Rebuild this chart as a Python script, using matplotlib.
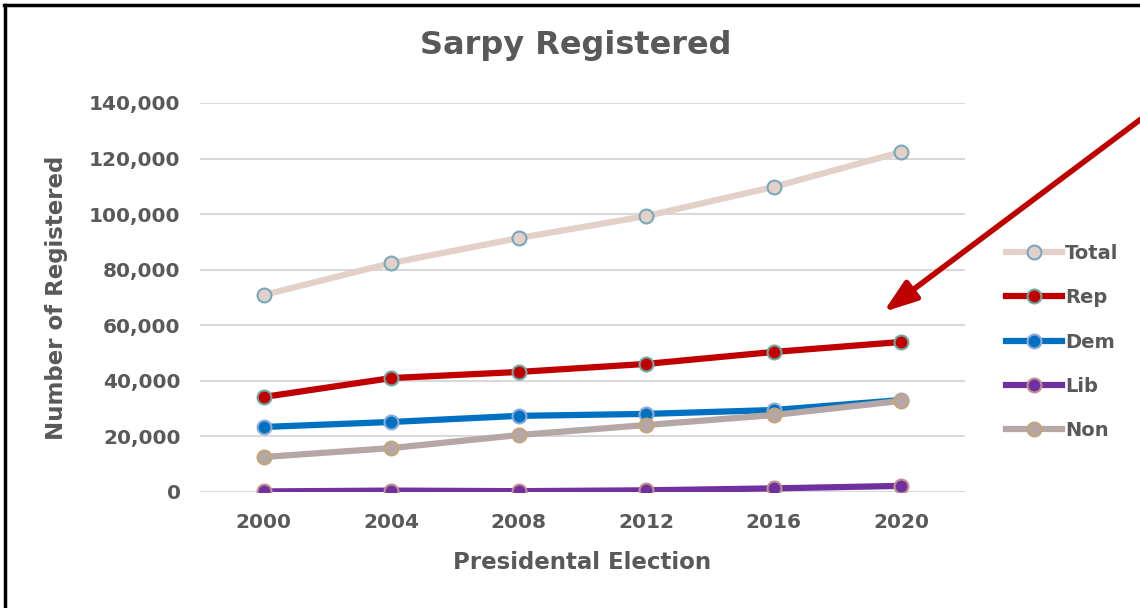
import matplotlib.pyplot as plt
from matplotlib.lines import Line2D
from matplotlib.patches import FancyArrowPatch
from matplotlib.ticker import FuncFormatter

plt.rcParams['font.family'] = ['DejaVu Sans']
plt.rcParams['font.weight'] = 'bold'

years = ['2000', '2004', '2008', '2012', '2016', '2020']
total = [70900, 82400, 91400, 99300, 109800, 122400]
rep = [34200, 41000, 43200, 46100, 50400, 54000]
dem = [23400, 25200, 27400, 28100, 29500, 33100]
lib = [200, 500, 300, 600, 1300, 2200]
non = [12600, 15800, 20500, 24100, 27700, 32800]

series = [
    ('Total', total, '#e2d0c9', '#e2d0c9', '#78a8bb'),
    ('Rep', rep, '#c00000', '#c00000', '#6fa8a0'),
    ('Dem', dem, '#0070c0', '#0070c0', '#8ea9db'),
    ('Lib', lib, '#7030a0', '#7030a0', '#c0908a'),
    ('Non', non, '#b4a7a5', '#b4a7a5', '#c4a57a'),
]

grey = '#595959'

fig = plt.figure(figsize=(11.4, 6.08), dpi=100)
ax = fig.add_axes([0.1754, 0.1908, 0.6711, 0.6398])

x = list(range(len(years)))
for name, vals, lc, fc, ec in series:
    ax.plot(x, vals, color=lc, lw=4.5, marker='o', ms=10,
            markerfacecolor=fc, markeredgecolor=ec, markeredgewidth=1.5,
            solid_capstyle='round', zorder=3)

ax.set_xlim(-0.5, 5.5)
ax.set_ylim(0, 140000)
ax.set_yticks(range(0, 140001, 20000))
ax.yaxis.set_major_formatter(FuncFormatter(lambda v, p: f'{int(v):,}'))
ax.set_xticks(x)
ax.set_xticklabels(years)
ax.grid(axis='y', color='#d9d9d9', lw=1.5, zorder=0)
for s in ax.spines.values():
    s.set_visible(False)
ax.tick_params(length=0, labelsize=14.5, labelcolor=grey)
ax.tick_params(axis='y', pad=14)
ax.tick_params(axis='x', pad=15)
for t in ax.get_xticklabels() + ax.get_yticklabels():
    t.set_fontweight('bold')

ax.set_xlabel('Presidental Election', fontsize=16.5, color=grey, fontweight='bold')
ax.set_ylabel('Number of Registered', fontsize=16.5, color=grey, fontweight='bold')
ax.xaxis.set_label_coords(0.50, -0.152)
ax.yaxis.set_label_coords(-0.1725, 0.50)
fig.text(0.505, 0.925, 'Sarpy Registered', ha='center', va='center',
         fontsize=23, color=grey, fontweight='bold')

handles = [Line2D([0], [0], color=lc, lw=4.5, marker='o', ms=10,
                  markerfacecolor=fc, markeredgecolor=ec, markeredgewidth=1.5)
           for name, vals, lc, fc, ec in series]
labels = [s[0] for s in series]
leg = fig.legend(handles, labels, loc='center left',
                 bbox_to_anchor=(0.867, 0.4375), frameon=False,
                 prop={'size': 14, 'weight': 'bold'}, labelcolor=grey,
                 handlelength=2.9, handletextpad=0.15, labelspacing=1.3)

# red arrow pointing at Rep line
fig.patches.append(FancyArrowPatch(
    (1.005, 0.81), (0.775, 0.487), transform=fig.transFigure,
    arrowstyle='-|>,head_length=20,head_width=7', color='#c00000',
    lw=4, mutation_scale=1, shrinkA=0, shrinkB=0))

# black frame (right/bottom edges cut off)
fig.add_artist(Line2D([0.0048, 0.0048], [0, 0.9925], color='black', lw=2.5,
                      transform=fig.transFigure))
fig.add_artist(Line2D([0.0035, 1], [0.9925, 0.9925], color='black', lw=2.5,
                      transform=fig.transFigure))

fig.savefig('out.png', dpi=100)
